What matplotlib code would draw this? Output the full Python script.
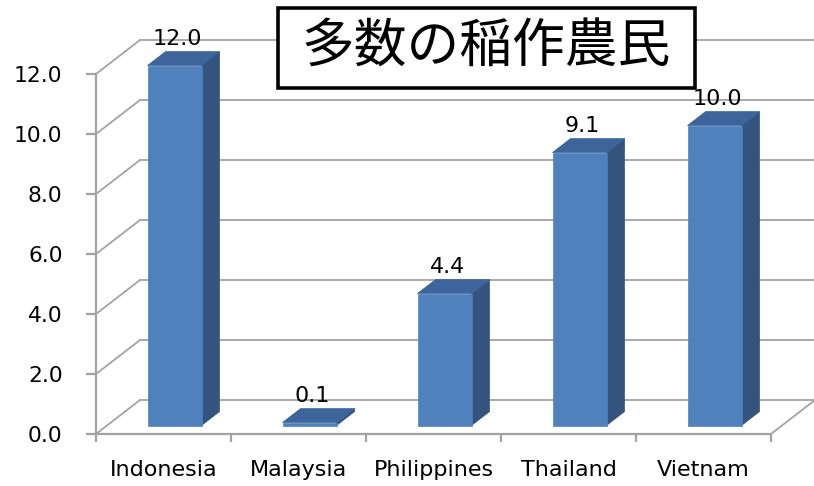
import numpy as np
import matplotlib
matplotlib.use('Agg')
import matplotlib.pyplot as plt
from matplotlib.patches import Polygon, Rectangle

# data
countries = ['Indonesia', 'Malaysia', 'Philippines', 'Thailand', 'Vietnam']
values = [12.0, 0.1, 4.4, 9.1, 10.0]
yticks = [0, 2, 4, 6, 8, 10, 12]
title = '多数の稲作農民'

# 3d look: depth vector in data units (x: categories, y: values)
DX, DY = 0.326, 1.133
D0, D1 = 0.25, 0.66
HW = 0.2

FRONT = '#4f81bd'
SIDE = '#34547e'
TOP = '#3d659b'
GRID = '#a3a3a3'


def proj(x, y, d):
    return (x + d * DX, y + d * DY)


W, H = 814, 486
fig = plt.figure(figsize=(W / 100, H / 100), dpi=100)
# front plane: x from 96px to 771px, y=0 at 434px, y=12 at 74px
ax = fig.add_axes([96 / W, (H - 434) / H, 675 / W, 360 / H])
ax.set_xlim(-0.5, 4.5)
ax.set_ylim(0, 12)

# back wall grid + left wall diagonals
for y in yticks:
    x0, y0 = proj(-0.5, y, 1)
    x1, y1 = proj(4.5, y, 1)
    ax.plot([-0.5, x0], [y, y0], color=GRID, lw=1.3, clip_on=False, zorder=1)
    ax.plot([x0, x1], [y0, y1], color=GRID, lw=1.3, clip_on=False, zorder=1)
# right floor edge
xa, ya = proj(4.5, 0, 1)
ax.plot([4.5, xa], [0, ya], color=GRID, lw=1.3, clip_on=False, zorder=1)

# bars
for i, v in enumerate(values):
    xl, xr = i - HW, i + HW
    front = [proj(xl, 0, D0), proj(xr, 0, D0), proj(xr, v, D0), proj(xl, v, D0)]
    side = [proj(xr, 0, D0), proj(xr, 0, D1), proj(xr, v, D1), proj(xr, v, D0)]
    top = [proj(xl, v, D0), proj(xl, v, D1), proj(xr, v, D1), proj(xr, v, D0)]
    for pts, c in [(side, SIDE), (top, TOP), (front, FRONT)]:
        ax.add_patch(Polygon(pts, closed=True, facecolor=c, edgecolor=c,
                             lw=0.5, clip_on=False, zorder=3))
    lx = proj(i, v, D0)[0]
    ly = proj(i, v, D1)[1]
    ax.text(lx + 0.02, ly + 0.42, '%.1f' % v, ha='center', va='center',
            fontsize=16, color='black', zorder=4)

# axes look
for s in ['top', 'right']:
    ax.spines[s].set_visible(False)
for s in ['left', 'bottom']:
    ax.spines[s].set_color(GRID)
    ax.spines[s].set_linewidth(1.6)
    ax.spines[s].set_zorder(5)
ax.set_facecolor('none')

ax.set_yticks(yticks)
ax.set_yticklabels(['%.1f' % t for t in yticks])
ax.tick_params(axis='y', length=7, width=1.6, color=GRID, pad=17,
               labelsize=15.7)
ax.set_xticks(range(len(countries)))
ax.set_xticklabels(countries)
ax.set_xticks(np.arange(-0.5, 5, 1), minor=True)
ax.tick_params(axis='x', which='major', length=0, pad=19, labelsize=16)
ax.tick_params(axis='x', which='minor', length=6, width=1.6, color=GRID)

# title box
fig.patches.append(Rectangle((278 / W, 1 - 88 / H), 417 / W, 80 / H,
                             transform=fig.transFigure, facecolor='white',
                             edgecolor='black', lw=2.6, zorder=6))
fig.text(486.5 / W, 1 - 47 / H, title, ha='center', va='center',
         fontsize=38, family=['Noto Sans CJK JP', 'DejaVu Sans'], zorder=7)

fig.savefig('out.png', dpi=100)
